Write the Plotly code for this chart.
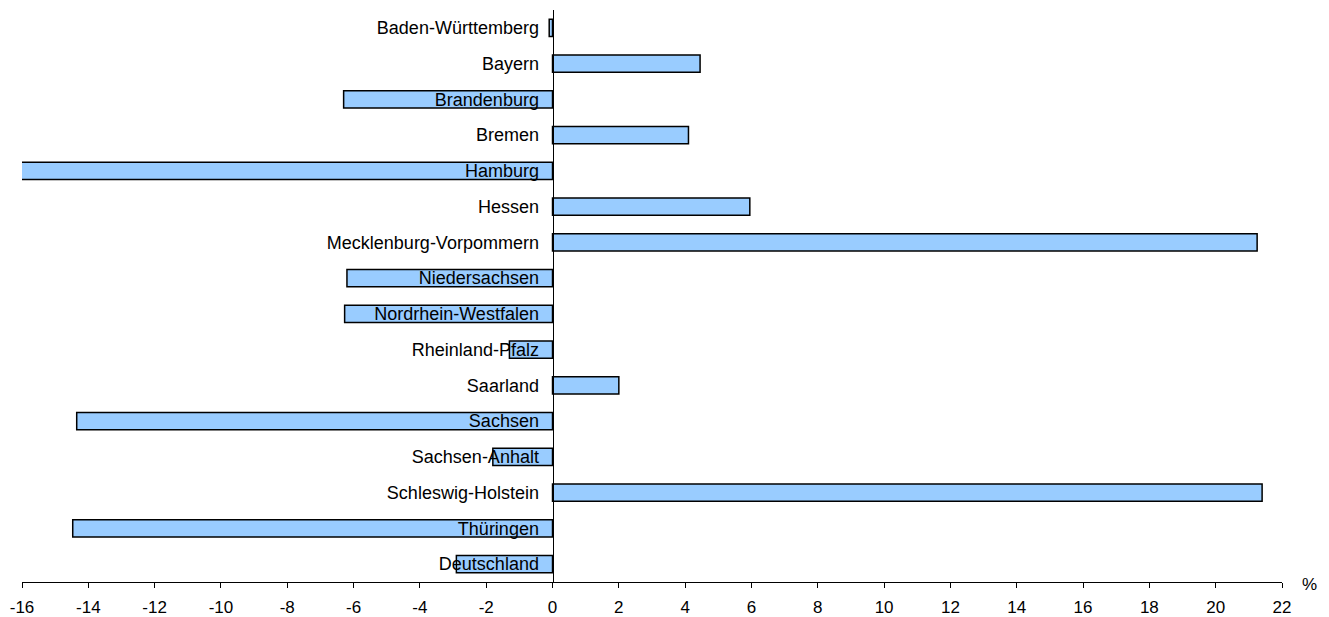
import plotly.graph_objects as go

regions = ["Baden-Württemberg", "Bayern", "Brandenburg", "Bremen", "Hamburg", "Hessen",
           "Mecklenburg-Vorpommern", "Niedersachsen", "Nordrhein-Westfalen", "Rheinland-Pfalz",
           "Saarland", "Sachsen", "Sachsen-Anhalt", "Schleswig-Holstein", "Thüringen", "Deutschland"]
values = [-0.1, 4.45, -6.3, 4.1, -16.3, 5.95, 21.25, -6.2, -6.27, -1.3,
          2.0, -14.35, -1.8, 21.4, -14.47, -2.9]
x_ticks = list(range(-16, 23, 2))

FONT = "Liberation Sans, Arial, sans-serif"

fig = go.Figure(go.Bar(
    x=values, y=regions, orientation="h",
    marker=dict(color="#99CCFF", line=dict(color="black", width=1.5)),
    width=0.48,
))

fig.update_layout(
    width=1321, height=609,
    margin=dict(l=14, r=47, t=2, b=35),
    paper_bgcolor="white", plot_bgcolor="white",
    showlegend=False,
    font=dict(family=FONT, size=18, color="black"),
    xaxis=dict(
        range=[-16, 22], tickvals=x_ticks, ticktext=[str(v) for v in x_ticks],
        showgrid=False, zeroline=False, showline=True, linecolor="black", linewidth=1,
        ticks="outside", ticklen=5, tickcolor="black", tickwidth=1,
        ticklabelstandoff=5, automargin=False,
        tickfont=dict(family=FONT, size=17, color="black"),
        fixedrange=True,
    ),
    yaxis=dict(
        categoryorder="array", categoryarray=regions, autorange="reversed",
        anchor="free", position=16 / 38, automargin=False,
        showgrid=False, zeroline=False, showline=True, linecolor="black", linewidth=1,
        ticks="", ticklabelstandoff=10,
        tickfont=dict(family=FONT, size=18, color="black"),
        layer="above traces",
    ),
    annotations=[dict(text="%", xref="paper", yref="paper", x=1.0, y=0.0,
                      xanchor="left", yanchor="middle", xshift=18, yshift=-2, showarrow=False,
                      font=dict(family=FONT, size=17, color="black"))],
)

fig.write_html("out.html")
